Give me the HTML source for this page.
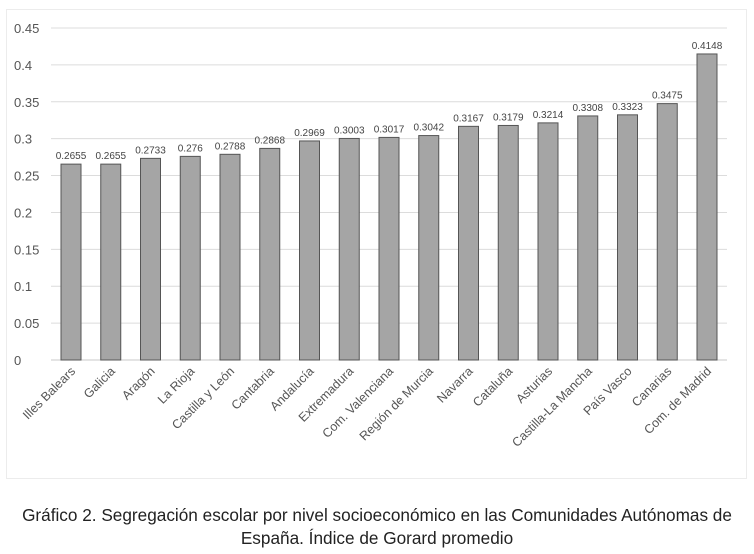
<!DOCTYPE html>
<html><head><meta charset="utf-8"><style>
body{margin:0;background:#fff;width:754px;height:554px;overflow:hidden;font-family:"Liberation Sans",sans-serif}
#frame{position:absolute;left:6px;top:9px;width:739px;height:468px;border:1px solid #ececec}
.cap{position:absolute;left:0;width:754px;text-align:center;font-size:17.2px;color:#222;white-space:nowrap}
</style></head><body>
<div id="frame"></div>
<svg id="c" width="754" height="554" style="position:absolute;left:0;top:0"></svg>
<div class="cap" style="top:505px">Gráfico 2. Segregación escolar por nivel socioeconómico en las Comunidades Autónomas de</div>
<div class="cap" style="top:528px">España. Índice de Gorard promedio</div>
<script>
const categories=["Illes Balears","Galicia","Aragón","La Rioja","Castilla y León","Cantabria","Andalucía","Extremadura","Com. Valenciana","Región de Murcia","Navarra","Cataluña","Asturias","Castilla-La Mancha","País Vasco","Canarias","Com. de Madrid"];
const values=[0.2655,0.2655,0.2733,0.276,0.2788,0.2868,0.2969,0.3003,0.3017,0.3042,0.3167,0.3179,0.3214,0.3308,0.3323,0.3475,0.4148];
const valueLabels=["0.2655","0.2655","0.2733","0.276","0.2788","0.2868","0.2969","0.3003","0.3017","0.3042","0.3167","0.3179","0.3214","0.3308","0.3323","0.3475","0.4148"];
const ticks=[0,0.05,0.1,0.15,0.2,0.25,0.3,0.35,0.4,0.45];
const tickLabels=["0","0.05","0.1","0.15","0.2","0.25","0.3","0.35","0.4","0.45"];
const svg=document.getElementById('c');const NS='http://www.w3.org/2000/svg';
const y=v=>360-v*(332/0.45);
const x=i=>71+i*39.75;
function mk(t,a){const e=document.createElementNS(NS,t);for(const k in a)e.setAttribute(k,a[k]);svg.appendChild(e);return e;}
ticks.forEach((t,i)=>{
 const l=mk('line',{x1:51,x2:727,y1:y(t),y2:y(t),stroke:i==0?'#c8c8c8':'#dcdcdc','stroke-width':1});
 
 
 const tx=mk('text',{x:14,y:y(t)+5,'font-size':13,fill:'#555'});tx.textContent=tickLabels[i];
 
 
});
values.forEach((v,i)=>{
 const r=mk('rect',{x:x(i)-10,y:y(v),width:20,height:360-y(v),fill:'#a5a5a5',stroke:'#555','stroke-width':1});
 
 
 const t=mk('text',{x:x(i),y:y(v)-5,'font-size':10,fill:'#444','text-anchor':'middle'});t.textContent=valueLabels[i];
 
 
 const c=mk('text',{x:x(i)+5,y:372,'font-size':12.5,fill:'#555','text-anchor':'end',transform:`rotate(-45 ${x(i)+5} 372)`});c.textContent=categories[i];
 
 
});
</script>
</body></html>
